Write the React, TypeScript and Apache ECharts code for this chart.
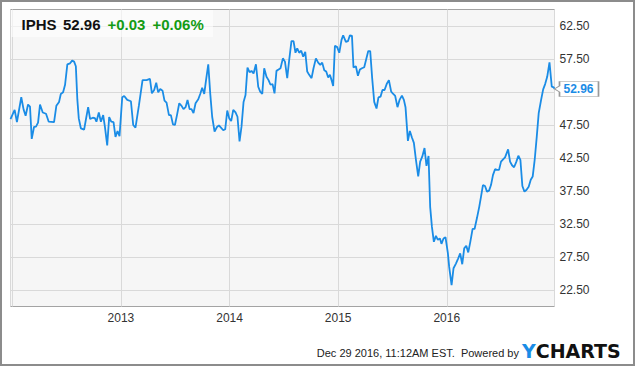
import React, { useEffect, useRef } from "react";
import * as echarts from "echarts";

// Decimal-year positions of the weekly closes
const years = [
  2011.986, 2012.024, 2012.045, 2012.085, 2012.107, 2012.125, 2012.147, 2012.165, 2012.181, 2012.202,
  2012.220, 2012.239, 2012.257, 2012.282, 2012.312, 2012.337, 2012.386, 2012.407, 2012.432, 2012.448,
  2012.469, 2012.487, 2012.508, 2012.533, 2012.552, 2012.570, 2012.586, 2012.600, 2012.613, 2012.632,
  2012.662, 2012.678, 2012.699, 2012.717, 2012.742, 2012.761, 2012.775, 2012.797, 2012.816, 2012.837,
  2012.853, 2012.874, 2012.892, 2012.911, 2012.932, 2012.950, 2012.969, 2012.987, 2013.012, 2013.030,
  2013.058, 2013.092, 2013.113, 2013.134, 2013.166, 2013.199, 2013.236, 2013.267, 2013.285, 2013.306,
  2013.325, 2013.343, 2013.362, 2013.383, 2013.401, 2013.420, 2013.442, 2013.460, 2013.479, 2013.497,
  2013.516, 2013.537, 2013.558, 2013.576, 2013.595, 2013.613, 2013.632, 2013.650, 2013.668, 2013.687,
  2013.712, 2013.730, 2013.748, 2013.767, 2013.782, 2013.804, 2013.822, 2013.840, 2013.862, 2013.884,
  2013.902, 2013.921, 2013.942, 2013.960, 2013.979, 2013.997, 2014.015, 2014.034, 2014.055, 2014.073,
  2014.092, 2014.110, 2014.129, 2014.147, 2014.165, 2014.184, 2014.202, 2014.221, 2014.243, 2014.264,
  2014.282, 2014.301, 2014.319, 2014.340, 2014.359, 2014.377, 2014.396, 2014.414, 2014.432, 2014.451,
  2014.469, 2014.491, 2014.510, 2014.531, 2014.549, 2014.570, 2014.589, 2014.607, 2014.623, 2014.641,
  2014.660, 2014.678, 2014.697, 2014.715, 2014.733, 2014.755, 2014.773, 2014.795, 2014.816, 2014.835,
  2014.853, 2014.872, 2014.890, 2014.908, 2014.924, 2014.939, 2014.954, 2014.970, 2014.991, 2015.010,
  2015.031, 2015.046, 2015.071, 2015.090, 2015.108, 2015.127, 2015.141, 2015.163, 2015.182, 2015.200,
  2015.219, 2015.240, 2015.258, 2015.277, 2015.295, 2015.313, 2015.332, 2015.353, 2015.371, 2015.390,
  2015.408, 2015.427, 2015.449, 2015.467, 2015.488, 2015.507, 2015.525, 2015.546, 2015.565, 2015.587,
  2015.605, 2015.620, 2015.642, 2015.660, 2015.679, 2015.697, 2015.716, 2015.737, 2015.755, 2015.774,
  2015.795, 2015.813, 2015.832, 2015.847, 2015.863, 2015.881, 2015.900, 2015.918, 2015.937, 2015.951,
  2015.970, 2015.988, 2016.010, 2016.022, 2016.044, 2016.062, 2016.084, 2016.105, 2016.123, 2016.142,
  2016.160, 2016.179, 2016.197, 2016.216, 2016.237, 2016.255, 2016.277, 2016.298, 2016.314, 2016.332,
  2016.351, 2016.369, 2016.388, 2016.406, 2016.424, 2016.443, 2016.461, 2016.480, 2016.498, 2016.517,
  2016.535, 2016.563, 2016.581, 2016.599, 2016.618, 2016.639, 2016.657, 2016.676, 2016.694, 2016.713,
  2016.731, 2016.752, 2016.771, 2016.789, 2016.807, 2016.826, 2016.844, 2016.866, 2016.885, 2016.903,
  2016.922, 2016.943, 2016.964, 2016.982, 2016.989,
];

// IPHS price at each position
const prices = [
  48.4, 49.8, 47.95, 51.7, 49.8, 48.9, 50.6, 50.3, 45.4, 47.2,
  47.25, 47.85, 50.6, 49.4, 49.2, 48.0, 47.95, 50.4, 51.0, 52.2,
  52.45, 53.6, 56.7, 56.85, 57.25, 57.1, 56.4, 51.3, 48.5, 47.0,
  46.8, 48.3, 50.2, 48.4, 48.6, 48.55, 48.0, 49.4, 48.0, 49.0,
  47.2, 44.4, 48.7, 48.0, 47.95, 45.7, 46.6, 45.8, 51.7, 51.9,
  51.3, 51.1, 47.5, 47.1, 50.5, 54.3, 54.3, 54.5, 52.3, 52.8,
  53.9, 52.45, 52.95, 52.7, 51.2, 50.9, 49.0, 49.0, 47.6, 47.5,
  49.0, 50.8, 50.4, 49.9, 50.2, 51.3, 49.9, 49.9, 49.3, 50.8,
  51.4, 52.2, 53.15, 52.2, 54.1, 56.7, 52.3, 48.75, 46.5, 47.2,
  47.45, 47.1, 46.7, 46.85, 49.7, 48.5, 48.1, 49.8, 49.4, 48.75,
  45.0, 47.25, 51.0, 52.05, 56.2, 55.5, 55.7, 55.3, 56.7, 53.3,
  52.55, 52.2, 56.1, 54.8, 54.3, 53.6, 53.7, 52.3, 55.7, 55.9,
  56.1, 57.6, 57.1, 54.6, 57.35, 60.2, 60.2, 58.45, 59.1, 58.45,
  58.75, 57.85, 58.6, 55.6, 55.1, 54.6, 56.1, 57.6, 56.95, 56.6,
  56.95, 55.8, 55.6, 54.7, 55.1, 54.3, 53.4, 59.5, 59.3, 58.45,
  60.4, 61.1, 60.1, 60.2, 61.1, 61.0, 56.2, 56.4, 54.95, 55.9,
  56.1, 56.25, 57.45, 58.7, 58.7, 54.6, 51.0, 50.0, 51.7, 51.8,
  52.8, 52.8, 53.8, 54.3, 52.55, 52.2, 51.9, 50.2, 51.3, 51.95,
  51.3, 50.2, 45.1, 46.6, 45.6, 44.8, 42.2, 39.7, 41.95, 42.7,
  44.0, 41.3, 42.8, 35.1, 32.1, 29.8, 30.7, 30.1, 30.3, 29.5,
  30.3, 30.5, 28.1, 26.0, 23.25, 25.8, 26.5, 27.3, 28.05, 26.4,
  28.8, 29.2, 28.2, 29.8, 31.75, 31.75, 33.4, 35.1, 36.6, 38.4,
  38.25, 37.4, 37.55, 38.4, 39.9, 40.8, 40.7, 40.7, 41.95, 42.3,
  42.6, 43.8, 41.95, 41.4, 41.1, 41.95, 42.85, 42.2, 38.25, 37.4,
  37.65, 38.15, 39.2, 39.7, 42.2, 45.7, 49.3, 51.3, 52.9, 53.7,
  54.8, 57.0, 53.3, 53.2, 52.96,
];

// Right-axis labels that are visible (52.50 sits under the last-price callout)
const yTickLabels = [22.5, 27.5, 32.5, 37.5, 42.5, 47.5, 57.5, 62.5];
const xYearLabels = [2013, 2014, 2015, 2016];

const ticker = "IPHS";
const lastPrice = "52.96";
const change = "+0.03";
const changePct = "+0.06%";
const footerText = "Dec 29 2016, 11:12AM EST.  Powered by";
const logoY = "Y";
const logoRest = "CHARTS";

const LINE = "#1a8ce6";
const GREEN = "#149b14";
const FONT = "'Liberation Sans', Arial, sans-serif";

function yearToTs(y: number): number {
  const yr = Math.floor(y);
  const a = Date.UTC(yr, 0, 1);
  const b = Date.UTC(yr + 1, 0, 1);
  return a + (y - yr) * (b - a);
}

export default function App() {
  const ref = useRef<HTMLDivElement>(null);

  useEffect(() => {
    if (!ref.current) return;
    const chart = echarts.init(ref.current, null, { renderer: "svg" });
    const data = years.map((y, i) => [yearToTs(y), prices[i]]);
    const last = data[data.length - 1];

    chart.setOption({
      animation: false,
      useUTC: true,
      backgroundColor: "#ffffff",
      grid: {
        left: 10.5,
        top: 9.5,
        right: 80.5,
        bottom: 59.5,
        show: true,
        backgroundColor: "#f6f6f6",
        borderColor: "#a3a3a3",
        borderWidth: 1,
      },
      xAxis: {
        type: "time",
        min: yearToTs(years[0]),
        max: yearToTs(years[years.length - 1]),
        splitNumber: 5,
        axisLine: { show: false },
        axisTick: { show: false },
        axisLabel: {
          showMinLabel: false,
          showMaxLabel: false,
          margin: 5,
          fontSize: 12,
          fontFamily: FONT,
          color: "#333",
          formatter: (v: number) => {
            const d = new Date(v);
            const yr = d.getUTCFullYear();
            return d.getUTCMonth() === 0 && d.getUTCDate() === 1 && xYearLabels.includes(yr)
              ? String(yr)
              : "";
          },
        },
        splitLine: { show: true, lineStyle: { color: "#d9d9d9", width: 1 } },
      },
      yAxis: {
        type: "value",
        position: "right",
        min: 20,
        max: 65,
        interval: 2.5,
        axisLine: { show: false },
        axisTick: { show: false },
        axisLabel: {
          margin: 5,
          fontSize: 12,
          fontFamily: FONT,
          color: "#333",
          formatter: (v: number) =>
            yTickLabels.some((t) => Math.abs(t - v) < 1e-6) ? v.toFixed(2) : "",
        },
        splitLine: {
          show: true,
          lineStyle: { color: ["rgba(0,0,0,0)", "#d9d9d9"], width: 1 },
        },
      },
      series: [
        {
          type: "line",
          data,
          showSymbol: false,
          symbol: "none",
          clip: false,
          lineStyle: { color: LINE, width: 1.8 },
          z: 3,
          markPoint: {
            silent: true,
            symbol: "path://M5,0 L44,0 L44,15 L5,15 L5,10.5 L0,7.5 L5,4.5 Z",
            symbolSize: [44, 15],
            symbolKeepAspect: false,
            symbolOffset: [22, 0],
            itemStyle: { color: "#ffffff", borderColor: "#9a9a9a", borderWidth: 1 },
            label: {
              show: true,
              position: "inside",
              offset: [2, 0],
              formatter: lastPrice,
              color: LINE,
              fontWeight: "bold",
              fontSize: 12,
              fontFamily: FONT,
            },
            data: [{ coord: last, value: last[1] }],
          },
        },
      ],
      graphic: [
        {
          type: "rect",
          z: 100,
          silent: true,
          shape: { x: 1, y: 1, width: 633, height: 364 },
          style: { fill: "none", stroke: "#8c8c8c", lineWidth: 2 },
        },
        {
          type: "rect",
          z: 90,
          silent: true,
          shape: { x: 11, y: 10, width: 202, height: 27 },
          style: { fill: "rgba(255,255,255,0.6)" },
        },
        {
          type: "text",
          z: 95,
          x: 21.5,
          y: 24,
          style: { text: ticker, font: `bold 15px ${FONT}`, fill: "#111", verticalAlign: "middle" },
        },
        {
          type: "text",
          z: 95,
          x: 63,
          y: 24,
          style: { text: lastPrice, font: `bold 15px ${FONT}`, fill: "#111", verticalAlign: "middle" },
        },
        {
          type: "text",
          z: 95,
          x: 107.5,
          y: 24,
          style: { text: change, font: `bold 15px ${FONT}`, fill: GREEN, verticalAlign: "middle" },
        },
        {
          type: "text",
          z: 95,
          x: 152.5,
          y: 24,
          style: { text: changePct, font: `bold 15px ${FONT}`, fill: GREEN, verticalAlign: "middle" },
        },
        {
          type: "text",
          z: 95,
          x: 519,
          y: 353,
          style: {
            text: footerText,
            font: `11px ${FONT}`,
            fill: "#222",
            align: "right",
            verticalAlign: "middle",
          },
        },
        {
          type: "text",
          z: 95,
          x: 522,
          y: 350.5,
          style: {
            text: `{y|${logoY}}{c|${logoRest}}`,
            font: `bold 19px 'DejaVu Sans', sans-serif`,
            verticalAlign: "middle",
            rich: {
              y: { fill: LINE, font: `bold 19px 'DejaVu Sans', sans-serif` },
              c: { fill: "#111", font: `bold 19px 'DejaVu Sans', sans-serif` },
            },
          },
        },
      ],
    });

    return () => chart.dispose();
  }, []);

  return (
    <div
      ref={ref}
      style={{ position: "fixed", left: 0, top: 0, width: 635, height: 366 }}
    />
  );
}
